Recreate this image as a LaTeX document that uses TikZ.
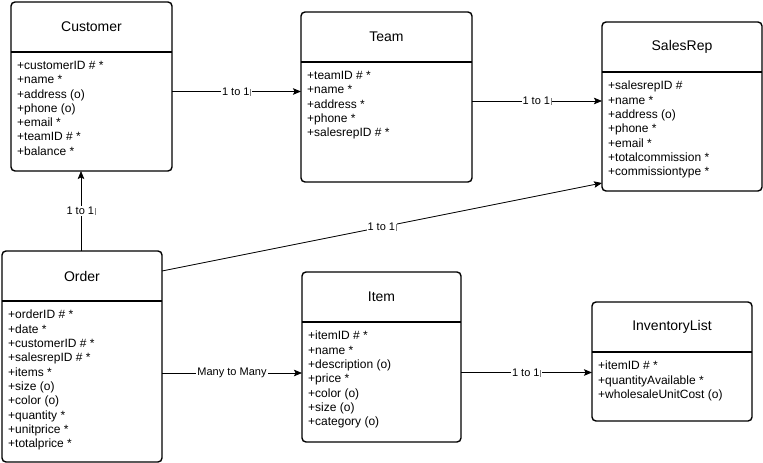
\documentclass[tikz,border=0pt]{standalone}
\usepackage{fontspec}
\setmainfont{Liberation Sans}
\usetikzlibrary{arrows.meta,calc}
\newcommand\curbar{\hspace{0.8pt}\textcolor{gray}{\rule[-0.5pt]{0.6pt}{7pt}}}
\begin{document}
\begin{tikzpicture}[x=1pt,y=-1pt,
 cls/.style={draw, line width=1.4pt, rounded corners=4pt, inner sep=0pt, outer sep=0pt, anchor=north west},
 sepline/.style={line width=1.4pt},
 ttl/.style={font=\fontsize{14}{16}\selectfont, inner sep=0pt},
 attrs/.style={font=\fontsize{12}{14.3}\selectfont, align=left, inner sep=0pt, anchor=north west},
 conn/.style={line width=0.8pt, -{Stealth[length=8pt,width=6.5pt,inset=1.5pt]}},
 lbl/.style={font=\fontsize{11}{13}\selectfont, fill=white, inner sep=1pt}]
\useasboundingbox (0,0) rectangle (763,463);

% Customer
\node[cls, minimum width=161pt, minimum height=169pt] (cust) at (11,2) {};
\draw[sepline] ($(cust.north west)+(0,50)$) -- ($(cust.north east)+(0,50)$);
\node[ttl] (custT) at ($(cust.north)+(0,25)$) {Customer};
\node[attrs] (custA) at ($(cust.north west)+(6,59)$) {+customerID \# *\\+name *\\+address (o)\\+phone (o)\\+email *\\+teamID \# *\\+balance *};

% Team
\node[cls, minimum width=171pt, minimum height=170pt] (team) at (301,12) {};
\draw[sepline] ($(team.north west)+(0,50)$) -- ($(team.north east)+(0,50)$);
\node[ttl] (teamT) at ($(team.north)+(0,25)$) {Team};
\node[attrs] (teamA) at ($(team.north west)+(6,59)$) {+teamID \# *\\+name *\\+address *\\+phone *\\+salesrepID \# *};

% SalesRep
\node[cls, minimum width=160pt, minimum height=169pt] (rep) at (602,22) {};
\draw[sepline] ($(rep.north west)+(0,50)$) -- ($(rep.north east)+(0,50)$);
\node[ttl] (repT) at ($(rep.north)+(0,25)$) {SalesRep};
\node[attrs] (repA) at ($(rep.north west)+(6,59)$) {+salesrepID \#\\+name *\\+address (o)\\+phone *\\+email *\\+totalcommission *\\+commissiontype *};

% Order
\node[cls, minimum width=160pt, minimum height=211pt] (order) at (2,251) {};
\draw[sepline] ($(order.north west)+(0,50)$) -- ($(order.north east)+(0,50)$);
\node[ttl] (orderT) at ($(order.north)+(0,25)$) {Order};
\node[attrs] (orderA) at ($(order.north west)+(6,59)$) {+orderID \# *\\+date *\\+customerID \# *\\+salesrepID \# *\\+items *\\+size (o)\\+color (o)\\+quantity *\\+unitprice *\\+totalprice *};

% Item
\node[cls, minimum width=159pt, minimum height=170pt] (item) at (302,272) {};
\draw[sepline] ($(item.north west)+(0,50)$) -- ($(item.north east)+(0,50)$);
\node[ttl] (itemT) at ($(item.north)+(0,25)$) {Item};
\node[attrs] (itemA) at ($(item.north west)+(6,59)$) {+itemID \# *\\+name *\\+description (o)\\+price *\\+color (o)\\+size (o)\\+category (o)};

% InventoryList
\node[cls, minimum width=160pt, minimum height=119pt] (inv) at (592,302) {};
\draw[sepline] ($(inv.north west)+(0,50)$) -- ($(inv.north east)+(0,50)$);
\node[ttl] (invT) at ($(inv.north)+(0,25)$) {InventoryList};
\node[attrs] (invA) at ($(inv.north west)+(6,59)$) {+itemID \# *\\+quantityAvailable *\\+wholesaleUnitCost (o)};

% connectors
\coordinate (c1) at ($(cust.east)+(0,5)$);
\draw[conn] (c1) -- (c1 -| team.west) node[lbl, midway] {1 to 1\curbar};

\coordinate (c2) at ($(team.east)+(0,4)$);
\draw[conn] (c2) -- (c2 -| rep.west) node[lbl, midway] {1 to 1\curbar};

\coordinate (c3) at ($(order.north)+(-1,0)$);
\draw[conn] (c3) -- (c3 |- cust.south) node[lbl, midway] {1 to 1\curbar};

\coordinate (c4) at ($(order.north east)+(0,20)$);
\coordinate (c4e) at ($(rep.south west)+(0,-8)$);
\draw[conn] (c4) -- (c4e) node[lbl, midway] {1 to 1\curbar};

\coordinate (c5) at ($(order.east)+(0,16.5)$);
\draw[conn] (c5) -- (c5 -| item.west) node[lbl, midway] {Many to Many};

\coordinate (c6) at ($(item.east)+(0,15.5)$);
\draw[conn] (c6) -- (c6 -| inv.west) node[lbl, midway] {1 to 1\curbar};
\end{tikzpicture}
\end{document}
